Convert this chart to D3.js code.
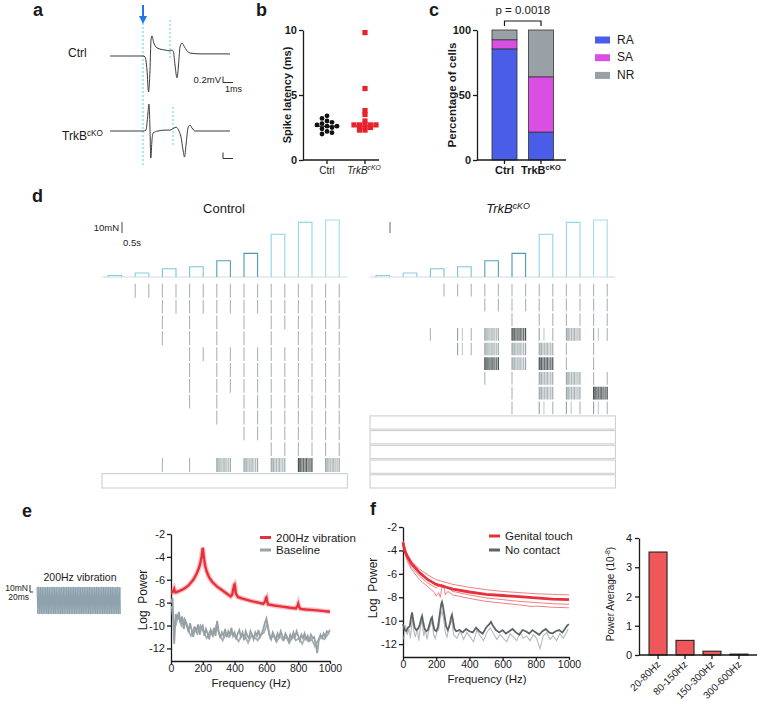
<!DOCTYPE html>
<html><head><meta charset="utf-8">
<script src="https://cdn.jsdelivr.net/npm/d3@7"></script>
<style>body{margin:0;background:#fff}svg{display:block}</style>
</head><body><svg id="c" width="760" height="702"></svg>
<script>
// ---------------- DATA ----------------
// panel a: spike traces [time ms, mV]
const ctrlTrace = [[-3.3,0],[0,0],[0.2,-0.03],[0.4,-0.47],[0.55,-1.2],[0.7,-0.47],[0.8,0.53],[0.9,0.67],[1.05,0.47],[1.3,0.3],[1.7,0.23],[2.2,0.2],[2.7,0.17],[2.9,0.2],[3.05,0.13],[3.2,-0.3],[3.4,-0.73],[3.55,-0.3],[3.7,0.3],[3.9,0.43],[4.1,0.33],[4.4,0.17],[4.7,0.1],[5.7,0.07],[8.7,0.07]];
const trkbTrace = [[-3.3,0],[0,0],[0.3,0.03],[0.45,0.43],[0.6,0.9],[0.7,0.03],[0.78,-0.9],[0.9,-0.3],[1.0,-0.07],[1.5,0],[2.2,0.03],[2.7,0.03],[3.1,0.1],[3.3,0.13],[3.6,0],[3.8,-0.2],[4.0,-0.63],[4.15,-0.87],[4.3,-0.47],[4.5,0.1],[4.7,0.2],[4.9,0.1],[5.2,0],[8.7,0]];
const ctrlSecondDash = 2.7, trkbSecondDash = 3.0; // ms
// panel b: spike latency (ms)
const latCats = ["Ctrl","TrkB"];
const latCtrl = [3.4,3.2,3.0,2.9,2.8,2.7,2.6,2.6,2.5,2.4,2.2,2.1,2.0];
const latTrkb = [9.8,5.5,3.8,3.5,3.0,2.75,2.7,2.7,2.7,2.7,2.5,2.5,2.5,2.3,2.3];
const latMedian = [2.6,2.6];
// panel c: percentage of cells
const pctCats = ["Ctrl","TrkB"];
const pctRA = [85.5,21.5];
const pctSA = [7,42.5];
const pctNR = [7.5,36];
const pctTypes = ["RA","SA","NR"];
const pValue = "p = 0.0018";
// panel d: force steps (mN), onsets (s), rasters
const forces = [1.4,3.6,7.5,9.3,14.8,21.5,38.8,49.7,51.8];
const stepOnsets = [0,1,2,3,4,5,6,7,8];
const stepDur = 0.5;
// codes per step: 0 none, 1 on, 2 off, 3 on+off, 4 burst, 5 dense burst, 6 sparse
const ctrlRaster = ["033333333","003333333","001111333","001111133","000333333","000133333","000133333","000113333","000013333","000003333","000000333","001144454"];
const ctrlSilent = 1;
const trkbRaster = ["002333333","000033333","000001333","001645646","000644411","000054511","000011443","000001445","000001666"];
const trkbSilent = 5;
// panel e: vibration amplitude per cycle (mN)
const vibAmp = [19,19.5,19.3,19.6,19.1,19.4,19.6,19.2,19.3,19.5,19.1,19.4,19.6,19.2,19.3,19.5,19.4,19.2,19.6,19.3,19.1,19.5,19.4,19.2,19.6,19.3,19.4,19.1,19.5,19.3,19.6,19.2,19.4,19.3,19.5,19.1,19.4,19.6,19.2,19.3,19.5,19.4,19.2,19.6,19.3,19.1,19.5,19.3];
// panel e spectra
const redE = [[0,-7.1],[10,-7.1],[20,-6.8],[25,-7.05],[30,-7.1],[50,-7.0],[80,-6.8],[110,-6.5],[140,-6.0],[160,-5.5],[175,-5.0],[185,-4.5],[192,-4.0],[197,-3.5],[200,-3.2],[203,-3.6],[208,-4.2],[215,-4.8],[225,-5.3],[240,-5.8],[260,-6.2],[290,-6.6],[320,-6.9],[350,-7.2],[375,-7.45],[385,-7.3],[392,-6.8],[397,-6.45],[400,-6.4],[403,-6.6],[408,-7.2],[420,-7.5],[450,-7.65],[500,-7.85],[550,-8.0],[580,-8.1],[592,-7.9],[597,-7.6],[600,-7.55],[603,-7.8],[610,-8.15],[650,-8.25],[700,-8.35],[750,-8.45],[785,-8.5],[795,-8.3],[800,-8.1],[805,-8.35],[815,-8.55],[850,-8.6],[900,-8.65],[950,-8.72],[1000,-8.8]];
const greyEFreqA = d3.range(0,1001,10);
const greyEA = [-8.0,-7.6,-11.6,-9.0,-9.5,-8.8,-9.8,-9.2,-10.3,-9.6,-9.9,-10.6,-9.8,-10.4,-11.0,-10.1,-10.5,-9.9,-10.8,-10.2,-10.0,-10.9,-10.3,-10.7,-11.2,-10.4,-10.8,-10.2,-10.9,-9.6,-10.5,-11.1,-10.6,-10.9,-10.3,-11.0,-10.5,-10.8,-10.2,-10.9,-10.6,-11.2,-10.7,-10.4,-11.0,-10.6,-11.3,-10.5,-10.9,-11.1,-10.5,-10.8,-11.2,-10.6,-10.9,-10.4,-11.0,-10.7,-10.3,-9.8,-9.4,-10.2,-10.9,-11.2,-10.6,-10.9,-11.3,-10.7,-11.0,-10.5,-10.9,-11.2,-10.7,-11.0,-11.4,-10.8,-11.1,-10.6,-11.0,-10.5,-10.9,-11.3,-10.8,-11.1,-10.7,-11.2,-10.9,-11.4,-10.8,-11.1,-11.0,-11.6,-12.4,-11.2,-10.8,-11.1,-10.7,-11.0,-10.5,-10.6,-10.4];
const greyEB = [[5,-8.3],[15,-9.6],[25,-10.2],[45,-9.1],[65,-10.0],[85,-9.4],[105,-10.3],[125,-10.9],[145,-10.2],[165,-10.7],[185,-10.0],[205,-10.6],[225,-11.1],[245,-10.5],[265,-10.9],[285,-10.0],[305,-10.8],[325,-11.3],[345,-10.7],[365,-11.0],[385,-10.6],[405,-11.0],[425,-11.4],[445,-10.8],[465,-10.9],[485,-11.5],[505,-10.9],[525,-11.0],[545,-11.3],[565,-10.8],[585,-10.6],[605,-9.8],[625,-11.1],[645,-10.9],[665,-11.4],[685,-10.9],[705,-11.3],[725,-11.0],[745,-11.5],[765,-10.9],[785,-11.3],[805,-11.1],[825,-11.6],[845,-11.0],[865,-11.4],[885,-11.2],[905,-11.8],[925,-11.3],[945,-11.0],[965,-11.2],[985,-10.8],[995,-10.6]];
// panel f spectra
const redF = [[0,-3.3],[10,-4.0],[25,-4.5],[50,-5.1],[75,-5.5],[100,-5.9],[150,-6.5],[200,-6.9],[250,-7.1],[300,-7.3],[400,-7.55],[500,-7.75],[600,-7.85],[700,-7.95],[800,-8.05],[900,-8.15],[1000,-8.2]];
const redFHi = [[0,-3.2],[25,-4.3],[50,-4.9],[100,-5.6],[150,-6.1],[200,-6.5],[300,-6.9],[400,-7.15],[500,-7.35],[600,-7.5],[700,-7.6],[800,-7.7],[900,-7.75],[1000,-7.8]];
const redFLo1 = [[0,-3.5],[25,-4.7],[50,-5.4],[100,-6.2],[150,-6.8],[200,-7.2],[230,-6.9],[250,-7.0],[300,-7.5],[400,-7.8],[500,-8.05],[600,-8.2],[700,-8.35],[800,-8.45],[900,-8.55],[1000,-8.6]];
const redFLo2 = [[0,-3.7],[25,-4.9],[50,-5.6],[100,-6.5],[150,-7.1],[190,-7.6],[200,-7.9],[215,-7.6],[225,-8.0],[235,-7.1],[245,-7.0],[255,-7.8],[270,-7.5],[300,-7.8],[400,-8.1],[500,-8.35],[600,-8.5],[700,-8.65],[780,-8.8],[800,-8.75],[900,-8.85],[1000,-8.9]];
const greyF = [[0,-10.3],[10,-10.8],[20,-10.9],[30,-10.6],[40,-10.5],[50,-9.6],[55,-9.3],[60,-9.8],[70,-10.6],[80,-10.8],[90,-10.7],[100,-10.4],[110,-9.8],[115,-9.6],[120,-10.0],[130,-10.7],[140,-10.9],[150,-10.8],[160,-10.3],[170,-9.8],[175,-9.7],[180,-10.2],[190,-10.8],[200,-10.9],[210,-10.6],[220,-9.6],[230,-8.6],[235,-8.4],[240,-8.7],[250,-9.6],[260,-10.5],[270,-10.8],[280,-10.4],[290,-9.7],[295,-9.5],[300,-9.9],[310,-10.7],[320,-10.9],[340,-10.8],[360,-11.0],[380,-10.7],[400,-10.9],[420,-11.0],[440,-10.6],[460,-10.9],[480,-11.1],[500,-10.6],[520,-10.3],[530,-10.1],[540,-10.4],[560,-10.8],[580,-11.0],[600,-10.8],[620,-11.1],[640,-10.9],[660,-10.7],[680,-11.0],[700,-11.2],[720,-10.8],[740,-10.9],[760,-11.1],[780,-10.8],[800,-11.0],[820,-11.2],[840,-10.9],[860,-10.7],[880,-11.0],[900,-11.1],[920,-10.9],[940,-10.8],[960,-11.0],[980,-10.6],[990,-10.4],[1000,-10.3]];
const greyFLight = [[5,-11.6],[15,-10.4],[25,-11.2],[35,-10.7],[45,-11.5],[55,-9.8],[65,-10.9],[75,-11.4],[85,-10.6],[95,-11.7],[105,-10.5],[115,-10.0],[125,-11.3],[135,-10.8],[145,-11.6],[155,-10.9],[165,-10.4],[175,-10.1],[185,-11.2],[195,-11.5],[205,-10.9],[215,-10.8],[225,-9.6],[235,-9.2],[245,-9.9],[255,-11.0],[265,-11.4],[275,-10.7],[285,-10.2],[295,-10.0],[305,-11.2],[325,-11.5],[345,-10.9],[365,-11.6],[385,-11.0],[405,-11.4],[425,-11.8],[445,-10.8],[465,-11.3],[485,-11.7],[505,-11.0],[525,-10.6],[545,-11.1],[565,-11.6],[585,-11.2],[605,-11.5],[625,-11.8],[645,-11.1],[665,-11.4],[685,-11.7],[705,-11.0],[725,-11.5],[745,-11.3],[765,-11.7],[785,-11.2],[805,-11.5],[825,-12.4],[845,-11.3],[865,-11.0],[885,-11.6],[905,-11.3],[925,-11.7],[945,-11.1],[965,-11.5],[985,-11.0],[995,-10.7]];
// panel f bars
const bandCats = ["20-80Hz","80-150Hz","150-300Hz","300-600Hz"];
const powerAvg = [3.52,0.5,0.13,0.03];

// ---------------- DRAW ----------------
const FONT = "'Liberation Sans', Arial, Helvetica, sans-serif";
const svg = d3.select("#c").attr("font-family", FONT);
svg.append("rect").attr("width",760).attr("height",702).attr("fill","#fff");
const INK = "#1a1a1a";
const plain = d => String(d);

function styleAxis(g, size, weight){
  g.attr("font-family",FONT).attr("font-size",size).attr("font-weight",weight||"normal");
  g.selectAll("path.domain").attr("stroke",INK).attr("stroke-width",1.3);
  g.selectAll(".tick line").attr("stroke",INK).attr("stroke-width",1.3);
  g.selectAll(".tick text").attr("fill",INK);
}
function txt(x,y,s,o){
  o=o||{};
  const t=svg.append("text").attr("x",x).attr("y",y).attr("font-size",o.size||11)
    .attr("font-weight",o.weight||"normal").attr("font-style",o.style||"normal")
    .attr("text-anchor",o.anchor||"start").attr("fill",o.fill||INK).text(s);
  if(o.rot) t.attr("transform",`rotate(${o.rot},${x},${y})`);
  return t;
}
function supText(x,y,main,sup,o){
  o=o||{};
  const t=svg.append("text").attr("x",x).attr("y",y).attr("font-size",o.size||11)
    .attr("font-weight",o.weight||"normal").attr("font-style",o.style||"normal")
    .attr("text-anchor",o.anchor||"start").attr("fill",INK);
  t.append("tspan").text(main);
  t.append("tspan").attr("dy",-4).attr("font-size",(o.size||11)*0.68).text(sup);
  return t;
}
// panel letters
[["a",33,16],["b",256,16],["c",429,16],["d",32,202],["e",22,517],["f",370,515]].forEach(d=>txt(d[1],d[2],d[0],{size:18,weight:"bold"}));

// ---- panel a ----
(function(){
  const xA = d3.scaleLinear().domain([0,1]).range([143,153]);
  const yC = d3.scaleLinear().domain([0,1]).range([56,26]);
  const yT = d3.scaleLinear().domain([0,1]).range([131,101]);
  const dash = (x,y1,y2)=>svg.append("line").attr("x1",x).attr("x2",x).attr("y1",y1).attr("y2",y2)
     .attr("stroke","#74d9f0").attr("stroke-width",1.2).attr("stroke-dasharray","2,2");
  dash(xA(0),23,166);
  dash(xA(ctrlSecondDash),20,58);
  dash(xA(trkbSecondDash),107,145);
  svg.append("line").attr("x1",xA(0)).attr("x2",xA(0)).attr("y1",5).attr("y2",17).attr("stroke","#1f78e6").attr("stroke-width",2);
  svg.append("path").attr("d",`M${xA(0)-4},16L${xA(0)+4},16L${xA(0)},24Z`).attr("fill","#1f78e6");
  const lc = d3.line().x(d=>xA(d[0])).y(d=>yC(d[1])).curve(d3.curveMonotoneX);
  const lt = d3.line().x(d=>xA(d[0])).y(d=>yT(d[1])).curve(d3.curveMonotoneX);
  svg.append("path").attr("d",lc(ctrlTrace)).attr("fill","none").attr("stroke","#3a3a3a").attr("stroke-width",1);
  svg.append("path").attr("d",lt(trkbTrace)).attr("fill","none").attr("stroke","#3a3a3a").attr("stroke-width",1);
  txt(68,57,"Ctrl",{size:12});
  supText(62,140,"TrkB","cKO",{size:12});
  const sbx = 223;
  const h = yC(0)-yC(0.2), w = xA(1)-xA(0);
  svg.append("path").attr("d",`M${sbx},${82.5-h}V82.5H${sbx+w}`).attr("fill","none").attr("stroke","#333").attr("stroke-width",1);
  svg.append("path").attr("d",`M${sbx},${158.5-h}V158.5H${sbx+w}`).attr("fill","none").attr("stroke","#333").attr("stroke-width",1);
  txt(221,83,"0.2mV",{size:9.5,anchor:"end"});
  txt(225,92,"1ms",{size:9});
})();

// ---- panel b ----
(function(){
  const y = d3.scaleLinear().domain([0,10]).range([160,30]);
  const x = d3.scalePoint().domain(latCats).range([327,365]);
  const gy = svg.append("g").attr("transform","translate(303,0)")
    .call(d3.axisLeft(y).tickValues([0,5,10]).tickFormat(plain).tickSize(4).tickSizeOuter(0).tickPadding(2));
  styleAxis(gy,11,"bold");
  svg.append("line").attr("x1",303).attr("x2",379).attr("y1",160).attr("y2",160).attr("stroke",INK).attr("stroke-width",1.3);
  latCats.forEach(c=>svg.append("line").attr("x1",x(c)).attr("x2",x(c)).attr("y1",160).attr("y2",164).attr("stroke",INK).attr("stroke-width",1.3));
  txt(x("Ctrl"),174,"Ctrl",{size:10,anchor:"middle"});
  supText(x("TrkB")-1,174,"TrkB","cKO",{size:10,anchor:"middle",style:"italic"});
  txt(291,95,"Spike latency (ms)",{size:11,weight:"bold",anchor:"middle",rot:-90});
  function dodge(vals,vGap,hGap,step){
    const placed=[];
    return vals.map(v=>{
      const yy=y(v);
      for(let k=0;k<20;k++){
        const off=(k%2?-1:1)*Math.ceil(k/2)*step;
        if(placed.every(p=>Math.abs(p.y-yy)>=vGap||Math.abs(p.x-off)>=hGap)){placed.push({x:off,y:yy});return {v,off};}
      }
      return {v,off:0};
    });
  }
  dodge(latCtrl,4.2,4.6,5).forEach(d=>svg.append("circle").attr("cx",x("Ctrl")+d.off).attr("cy",y(d.v)).attr("r",2.4).attr("fill","#111"));
  dodge(latTrkb,2.5,5,5.5).forEach(d=>svg.append("rect").attr("x",x("TrkB")+d.off-2.6).attr("y",y(d.v)-2.6).attr("width",5.2).attr("height",5.2).attr("fill","#e8222b"));
  svg.append("line").attr("x1",x("Ctrl")-12).attr("x2",x("Ctrl")+12).attr("y1",y(latMedian[0])).attr("y2",y(latMedian[0])).attr("stroke","#111").attr("stroke-width",1.2);
  svg.append("line").attr("x1",x("TrkB")-13).attr("x2",x("TrkB")+13).attr("y1",y(latMedian[1])).attr("y2",y(latMedian[1])).attr("stroke","#e8222b").attr("stroke-width",1.2);
})();

// ---- panel c ----
(function(){
  const y = d3.scaleLinear().domain([0,100]).range([160,30]);
  const x = d3.scaleBand().domain(pctCats).range([486,559.5]).paddingInner(0.315).paddingOuter(0.164);
  const colors = {RA:"#4a5de8",SA:"#d94fe3",NR:"#9aa1a6"};
  const gy = svg.append("g").attr("transform","translate(477,0)")
    .call(d3.axisLeft(y).tickValues([0,50,100]).tickFormat(plain).tickSize(4).tickSizeOuter(0).tickPadding(2));
  styleAxis(gy,11,"bold");
  const stack = d3.stack().keys(pctTypes)(pctCats.map((c,i)=>({cat:c,RA:pctRA[i],SA:pctSA[i],NR:pctNR[i]})));
  stack.forEach(layer=>layer.forEach(seg=>{
    svg.append("rect").attr("x",x(seg.data.cat)).attr("width",x.bandwidth())
      .attr("y",y(seg[1])).attr("height",y(seg[0])-y(seg[1]))
      .attr("fill",colors[layer.key]).attr("stroke","#333").attr("stroke-width",0.8);
  }));
  svg.append("line").attr("x1",477).attr("x2",566).attr("y1",160).attr("y2",160).attr("stroke",INK).attr("stroke-width",1.3);
  pctCats.forEach(c=>svg.append("line").attr("x1",x(c)+x.bandwidth()/2).attr("x2",x(c)+x.bandwidth()/2).attr("y1",160).attr("y2",164).attr("stroke",INK).attr("stroke-width",1.3));
  txt(x("Ctrl")+x.bandwidth()/2,174,"Ctrl",{size:11,weight:"bold",anchor:"middle"});
  supText(x("TrkB")+x.bandwidth()/2,174,"TrkB","cKO",{size:11,weight:"bold",anchor:"middle"});
  txt(456,95,"Percentage of cells",{size:11.5,weight:"bold",anchor:"middle",rot:-90});
  const c1=x("Ctrl")+x.bandwidth()/2, c2=x("TrkB")+x.bandwidth()/2;
  svg.append("path").attr("d",`M${c1},26V21H${c2}V26`).attr("fill","none").attr("stroke",INK).attr("stroke-width",1.2);
  txt((c1+c2)/2,14,pValue,{size:11.5,anchor:"middle"});
  pctTypes.forEach((k,i)=>{
    svg.append("rect").attr("x",595).attr("y",36.5+i*17.7).attr("width",15).attr("height",7).attr("fill",colors[k]);
    txt(617,43.5+i*17.7,k,{size:12});
  });
})();

// ---- panel d ----
const stepColors = ["#86cde6","#86cde6","#79c4df","#79c4df","#4f9fbf","#4b98b5","#8dd2ea","#92d5ec","#a3dcef"];
const burstFrac = [0,0.08,0.17,0.27,0.38,0.5,0.6,0.72,0.85,1];
const burstOp = [0.75,0.45,0.6,0.35,0.55,0.4,0.6,0.35,0.5,0.75];
function drawRaster(x0, rows, silent){
  const g = svg.append("g");
  const xs = d3.scaleLinear().domain([0,1]).range([x0,x0+27.2]);
  const fs = d3.scaleLinear().domain([0,10]).range([0,11]);
  const base = 277;
  g.append("line").attr("x1",xs(-0.23)).attr("x2",xs(8.8)).attr("y1",base).attr("y2",base).attr("stroke","#d2dadb").attr("stroke-width",1);
  forces.forEach((f,i)=>{
    const a=xs(stepOnsets[i]), b=xs(stepOnsets[i]+stepDur), h=fs(f);
    g.append("path").attr("d",`M${a},${base}V${base-h}H${b}V${base}`).attr("fill","none").attr("stroke",stepColors[i]).attr("stroke-width",1.1);
  });
  const n = rows.length+silent, top0=283, rowH=(489-283)/n;
  const tick=(t,y1,y2,op,col)=>g.append("line").attr("x1",xs(t)).attr("x2",xs(t)).attr("y1",y1).attr("y2",y2)
      .attr("stroke",col||"#66777a").attr("stroke-opacity",op).attr("stroke-width",1.1);
  rows.forEach((r,ri)=>{
    const y1=top0+ri*rowH+0.8, y2=top0+(ri+1)*rowH-1.2;
    r.split("").forEach((c,si)=>{
      const on=stepOnsets[si], off=on+stepDur;
      if(c==="1"||c==="3") tick(on,y1,y2,0.55);
      if(c==="2"||c==="3") tick(off,y1,y2,0.55);
      if(c==="4"||c==="5"){
        const dark=c==="5";
        g.append("rect").attr("x",xs(on)).attr("y",y1).attr("width",xs(off)-xs(on)).attr("height",y2-y1)
          .attr("fill",dark?"#3e4a4c":"#6d7c7f").attr("opacity",dark?0.3:0.12);
        burstFrac.forEach((fr,k)=>tick(on+fr*stepDur,y1,y2,Math.min(1,burstOp[k]*(dark?1.25:0.85)),dark?"#37403f":"#66777a"));
      }
      if(c==="6"){ tick(on,y1,y2,0.7); tick(on+0.35*stepDur,y1,y2,0.4); tick(off,y1,y2,0.55); }
    });
  });
  for(let s=0;s<silent;s++){
    const yy=top0+(rows.length+s)*rowH;
    g.append("rect").attr("x",xs(-0.22)).attr("y",yy+0.5).attr("width",xs(8.8)-xs(-0.22)).attr("height",rowH-1.5)
      .attr("fill","none").attr("stroke","#c6cccc").attr("stroke-width",1);
  }
  return {xs,fs};
}
const dc = drawRaster(108, ctrlRaster, ctrlSilent);
const dt = drawRaster(376, trkbRaster, trkbSilent);
txt(224,213,"Control",{size:13,anchor:"middle"});
supText(508,213,"TrkB","cKO",{size:13,anchor:"middle",style:"italic"});
svg.append("line").attr("x1",122).attr("x2",122).attr("y1",233).attr("y2",233-dc.fs(10)).attr("stroke","#444").attr("stroke-width",1);
txt(119,231,"10mN",{size:9.5,anchor:"end"});
txt(123,246,"0.5s",{size:9.5});
svg.append("line").attr("x1",390).attr("x2",390).attr("y1",233).attr("y2",233-dt.fs(10)).attr("stroke","#666").attr("stroke-width",1);

// ---- panel e ----
(function(){
  const xv = d3.scaleLinear().domain([0,vibAmp.length]).range([37,121]);
  const yv = d3.scaleLinear().domain([0,10]).range([600.5,593.5]);
  const pts=[];
  vibAmp.forEach((a,i)=>{pts.push([xv(i),yv(a)]);pts.push([xv(i+0.5),yv(-a)]);});
  svg.append("rect").attr("x",37).attr("y",yv(19.3)).attr("width",84).attr("height",yv(-19.3)-yv(19.3)).attr("fill","#b7c5cc");
  svg.append("path").attr("d",d3.line()(pts)).attr("fill","none").attr("stroke","#8ea2ad").attr("stroke-width",1.1);
  txt(80,581,"200Hz vibration",{size:10.5,anchor:"middle"});
  const sv = yv(0)-yv(10), st = xv(20/5)-xv(0);
  svg.append("path").attr("d",`M30,${592-sv}V592H${30+st/2.3}`).attr("fill","none").attr("stroke","#333").attr("stroke-width",1);
  txt(28,591,"10mN",{size:8.5,anchor:"end"});
  txt(29,600,"20ms",{size:8.5,anchor:"end"});
  const x = d3.scaleLinear().domain([0,1000]).range([171,330]);
  const y = d3.scaleLinear().domain([-13.1,-2]).range([661,534]);
  const gx = svg.append("g").attr("transform","translate(0,661)")
    .call(d3.axisBottom(x).tickValues([0,200,400,600,800,1000]).tickFormat(plain).tickSize(3).tickSizeOuter(0).tickPadding(1));
  styleAxis(gx,10.5);
  const gy = svg.append("g").attr("transform","translate(171,0)")
    .call(d3.axisLeft(y).tickValues([-2,-4,-6,-8,-10,-12]).tickFormat(plain).tickSize(4).tickSizeOuter(0).tickPadding(2));
  styleAxis(gy,11);
  const line = d3.line().x(d=>x(d[0])).y(d=>y(d[1]));
  svg.append("path").attr("d",line(greyEB)).attr("fill","none").attr("stroke","#a6afb3").attr("stroke-width",1.8);
  svg.append("path").attr("d",line(greyEFreqA.map((f,i)=>[f,greyEA[i]]))).attr("fill","none").attr("stroke","#96a0a5").attr("stroke-width",1.8);
  svg.append("path").attr("d",line(redE)).attr("fill","none").attr("stroke","#f07a80").attr("stroke-width",5).attr("stroke-opacity",0.45);
  svg.append("path").attr("d",line(redE)).attr("fill","none").attr("stroke","#e8303a").attr("stroke-width",2.4);
  svg.append("line").attr("x1",260).attr("x2",271).attr("y1",537.5).attr("y2",537.5).attr("stroke","#e8303a").attr("stroke-width",3);
  svg.append("line").attr("x1",260).attr("x2",271).attr("y1",550).attr("y2",550).attr("stroke","#98a2a7").attr("stroke-width",3);
  txt(276,542,"200Hz vibration",{size:11.5});
  txt(276,554,"Baseline",{size:11.5});
  txt(251,687,"Frequency (Hz)",{size:11.5,anchor:"middle"});
  txt(147,600,"Log\u00a0\u00a0Power",{size:12,anchor:"middle",rot:-90});
})();

// ---- panel f ----
(function(){
  const x = d3.scaleLinear().domain([0,1000]).range([403,569]);
  const y = d3.scaleLinear().domain([-13.1,-2]).range([657,527]);
  const gx = svg.append("g").attr("transform","translate(0,657)")
    .call(d3.axisBottom(x).tickValues([0,200,400,600,800,1000]).tickFormat(plain).tickSize(3).tickSizeOuter(0).tickPadding(1));
  styleAxis(gx,10.5);
  const gy = svg.append("g").attr("transform","translate(403,0)")
    .call(d3.axisLeft(y).tickValues([-2,-4,-6,-8,-10,-12]).tickFormat(plain).tickSize(4).tickSizeOuter(0).tickPadding(2));
  styleAxis(gy,11);
  const line = d3.line().x(d=>x(d[0])).y(d=>y(d[1]));
  svg.append("path").attr("d",line(greyFLight)).attr("fill","none").attr("stroke","#b4babd").attr("stroke-width",1.1);
  svg.append("path").attr("d",line(greyF)).attr("fill","none").attr("stroke","#5e6466").attr("stroke-width",1.8);
  [redFHi,redFLo1,redFLo2].forEach(s=>svg.append("path").attr("d",line(s)).attr("fill","none").attr("stroke","#f07f86").attr("stroke-width",1));
  svg.append("path").attr("d",line(redF)).attr("fill","none").attr("stroke","#e8303a").attr("stroke-width",2.8);
  svg.append("line").attr("x1",489).attr("x2",500).attr("y1",536).attr("y2",536).attr("stroke","#e8303a").attr("stroke-width",3);
  svg.append("line").attr("x1",489).attr("x2",500).attr("y1",550).attr("y2",550).attr("stroke","#5e6466").attr("stroke-width",3);
  txt(505,540,"Genital touch",{size:11.5});
  txt(505,554,"No contact",{size:11.5});
  txt(487,683,"Frequency (Hz)",{size:11.5,anchor:"middle"});
  txt(377,588,"Log\u00a0\u00a0Power",{size:12,anchor:"middle",rot:-90});

  const yb = d3.scaleLinear().domain([0,4]).range([655,538]);
  const xb = d3.scaleBand().domain(bandCats).range([645,752]).paddingInner(0.333).paddingOuter(0.15);
  const gyb = svg.append("g").attr("transform","translate(639,0)")
    .call(d3.axisLeft(yb).tickValues([0,1,2,3,4]).tickFormat(plain).tickSize(4).tickSizeOuter(0).tickPadding(3));
  styleAxis(gyb,11);
  bandCats.forEach((c,i)=>svg.append("rect").attr("x",xb(c)).attr("width",xb.bandwidth())
     .attr("y",yb(powerAvg[i])).attr("height",yb(0)-yb(powerAvg[i]))
     .attr("fill","#f0575b").attr("stroke","#222").attr("stroke-width",1.1));
  svg.append("line").attr("x1",639).attr("x2",757).attr("y1",655).attr("y2",655).attr("stroke",INK).attr("stroke-width",1.3);
  bandCats.forEach(c=>{
    const cx=xb(c)+xb.bandwidth()/2;
    svg.append("line").attr("x1",cx).attr("x2",cx).attr("y1",655).attr("y2",659).attr("stroke",INK).attr("stroke-width",1.3);
    txt(cx+3,665,c,{size:10,anchor:"end",rot:-45});
  });
  const yl = svg.append("text").attr("transform","translate(614,594) rotate(-90)").attr("text-anchor","middle").attr("font-size",10).attr("fill",INK);
  yl.append("tspan").text("Power Average (10");
  yl.append("tspan").attr("dy",-4).attr("font-size",7).text("-8");
  yl.append("tspan").attr("dy",4).text(")");
})();
</script></body></html>
